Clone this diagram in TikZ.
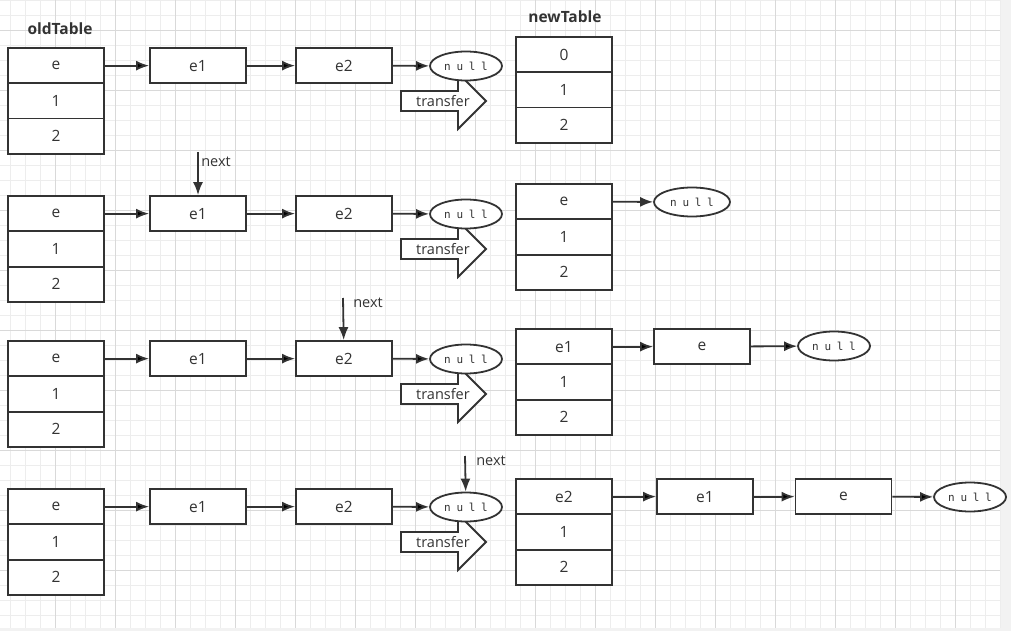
\documentclass[tikz,border=0pt]{standalone}
\usepackage{fontspec}
\setmainfont{Open Sans}
\newfontfamily\nilfont[LetterSpace=52]{DejaVu Sans Mono}
\usetikzlibrary{arrows.meta,shapes.geometric}
\definecolor{ink}{HTML}{333333}
\tikzset{
  >={Latex[length=13pt,width=10pt]},
  {cell/.style} ={draw=ink, line width=1.8pt, fill=white, text=ink,
                  minimum width=96pt, minimum height=35.3pt, inner sep=0,
                  font=\fontsize{15.5}{17}\selectfont},
  {nil/.style} ={ellipse, draw=ink, line width=1.8pt, fill=white,
                  text=ink, minimum width=72pt, minimum height=29pt,
                  inner sep=0, font=\nilfont\fontsize{11}{12}\selectfont},
  {link/.style} ={->, draw=ink, line width=1.8pt},
  {label/.style} ={text=ink, inner sep=0, font=\fontsize{14.5}{16}\selectfont},
  {tabhead/.style} ={text=ink, inner sep=0, font=\bfseries\fontsize{15.5}{17}\selectfont},
  {transfer/.style} ={draw=ink, line width=1.8pt, fill=white},
  {minor/.style} ={black!7, line width=.6pt},
  {major/.style} ={black!15, line width=.6pt},
}
\begin{document}
\begin{tikzpicture}[x=1pt,y=-1pt]
\useasboundingbox (0,0) rectangle (1011,631);
\fill[black!5] (1000,0) rectangle (1011,631) (0,628) rectangle (1011,631);
% grid
\foreach \x in {10,25,...,1000} \draw[minor] (\x,0) -- (\x,628);
\foreach \y in {0,15,...,628} \draw[minor] (0,\y) -- (1000,\y);
\foreach \x in {55,115,...,1000} \draw[major] (\x,0) -- (\x,628);
\foreach \y in {30,90,...,628} \draw[major] (0,\y) -- (1000,\y);

\node[tabhead] (old) at (60,29) {oldTable};
\node[tabhead] (new) at (565,17) {newTable};

% old table, list and transfer in every row
\foreach \r/\t in {1/48,2/196,3/341,4/489}{
  \node[cell] (o\r-0) at (56,\t+17.65) {e};
  \node[cell] (o\r-1) at (56,\t+52.95) {1};
  \node[cell] (o\r-2) at (56,\t+88.25) {2};
  \node[cell] (a\r) at (198,\t+17.65) {e1};
  \node[cell] (b\r) at (344,\t+17.65) {e2};
  \draw[transfer] (401,\t+43) -- (458,\t+43) -- (458,\t+25) -- (486,\t+53)
        -- (458,\t+81) -- (458,\t+63) -- (401,\t+63) -- cycle;
  \node[label] (t\r) at (443,\t+53) {transfer};
  \node[nil] (n\r) at (466,\t+18) {null};
  \path[link] (o\r-0) edge (a\r)
              (a\r) edge (b\r)
              (b\r) edge (n\r);
}

% new table
\node[cell] (p1-0) at (564,54.65) {0};
\node[cell] (p1-1) at (564,89.95) {1};
\node[cell] (p1-2) at (564,125.25) {2};

\node[cell] (p2-0) at (564,201.65) {e};
\node[cell] (p2-1) at (564,236.95) {1};
\node[cell] (p2-2) at (564,272.25) {2};
\node[nil, minimum width=76pt] (m2) at (692,202) {null};
\draw[link] (p2-0) -- (m2);

\node[cell] (p3-0) at (564,346.65) {e1};
\node[cell] (p3-1) at (564,381.95) {1};
\node[cell] (p3-2) at (564,417.25) {2};
\node[cell] (c3) at (702,346.65) {e};
\node[nil] (m3) at (834,346) {null};
\path[link] (p3-0) edge (c3)
            (c3) edge (m3);

\node[cell] (p4-0) at (564,496.65) {e2};
\node[cell] (p4-1) at (564,531.95) {1};
\node[cell] (p4-2) at (564,567.25) {2};
\node[cell] (c4) at (705,496.65) {e1};
\node[cell] (d4) at (843.5,496.65) {e};
\node[nil] (m4) at (970,497) {null};
\path[link] (p4-0) edge (c4)
            (c4) edge (d4)
            (d4) edge (m4);

% next pointers
\coordinate (q2) at (198,152);
\coordinate (q3) at (343,298);
\coordinate (q4) at (465,456);
\draw[link] (q2) -- (a2);
\draw[link] (q3) -- (b3);
\draw[link] (q4) -- (n4);
\node[label] (x2) at (216,162) {next};
\node[label] (x3) at (368,303) {next};
\node[label] (x4) at (491,461) {next};
\end{tikzpicture}
\end{document}
